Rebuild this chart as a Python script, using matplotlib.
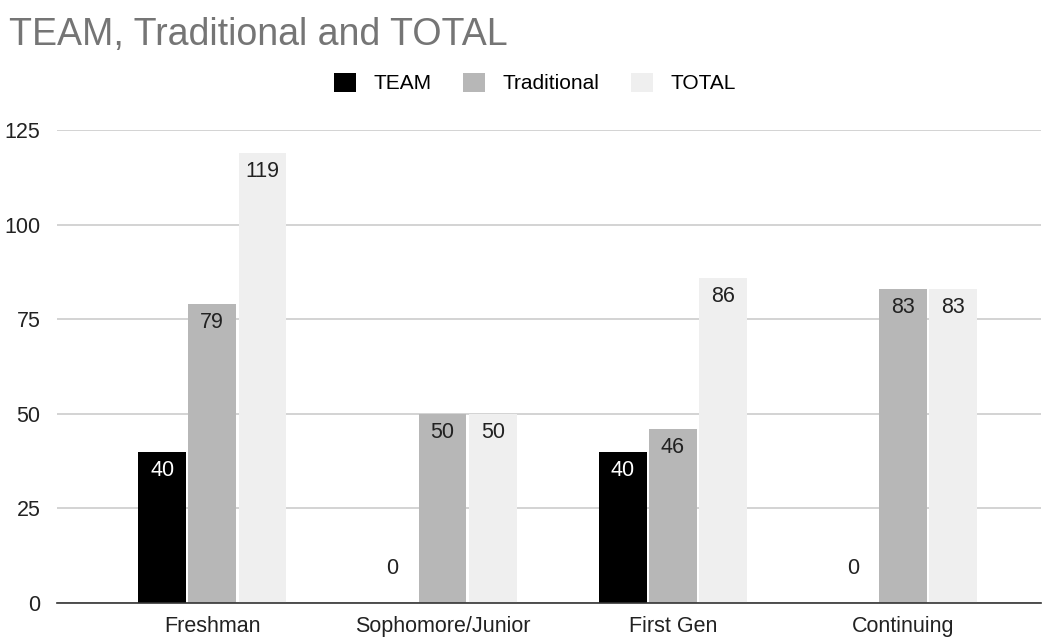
import numpy as np
import matplotlib.pyplot as plt

# 分组柱状图: TEAM / Traditional / TOTAL

categories = ["Freshman", "Sophomore/Junior", "First Gen", "Continuing"]
team = [40, 0, 40, 0]
traditional = [79, 50, 46, 83]
total = [119, 50, 86, 83]
series_names = ["TEAM", "Traditional", "TOTAL"]
yticks = [0, 25, 50, 75, 100, 125]

plt.rcParams['font.family'] = ['Liberation Sans', 'DejaVu Sans']

fig = plt.figure(figsize=(10.47, 6.39), dpi=100)
ax = fig.add_axes([0.0545, 0.0563, 0.94, 0.7403])

x = np.arange(len(categories))
w = 0.208
step = 0.218
colors = ["#000000", "#b7b7b7", "#efefef"]
txt_colors = ["white", "#222222", "#222222"]

for i, (vals, name) in enumerate(zip([team, traditional, total], series_names)):
    pos = x + (i - 1) * step
    ax.bar(pos, vals, width=w, color=colors[i], label=name, zorder=3)
    for p, v in zip(pos, vals):
        if v == 0:
            ax.text(p, v + 9, str(v), ha="center", va="center",
                    fontsize=15.5, color="#222222", zorder=4)
        else:
            ax.text(p, v - 5, str(v), ha="center", va="center",
                    fontsize=15.5, color=txt_colors[i], zorder=4)

ax.set_xlim(-0.674, 3.6)
ax.set_ylim(0, 125)
ax.set_yticks(yticks)
ax.set_xticks(x)
ax.set_xticklabels(categories)
ax.tick_params(axis="both", length=0, labelsize=15.5, colors="#222222")
ax.tick_params(axis="y", pad=12)
ax.tick_params(axis="x", pad=9)
for lbl in ax.get_yticklabels():
    lbl.set_horizontalalignment("right")
ax.grid(axis="y", color="#cccccc", linewidth=1.2, zorder=0)
for s in ["top", "right", "left"]:
    ax.spines[s].set_visible(False)
ax.spines["bottom"].set_color("#333333")
ax.spines["bottom"].set_linewidth(1.2)
ax.spines["bottom"].set_zorder(5)

fig.text(0.009, 0.93, "TEAM, Traditional and TOTAL", fontsize=27,
         color="#757575", ha="left", va="baseline")
fig.legend(loc="center", bbox_to_anchor=(0.511, 0.87), ncol=3, frameon=False,
           fontsize=15, handlelength=1.05, handleheight=1.05, columnspacing=1.5,
           handletextpad=0.85)

plt.savefig("out.png", dpi=100)
